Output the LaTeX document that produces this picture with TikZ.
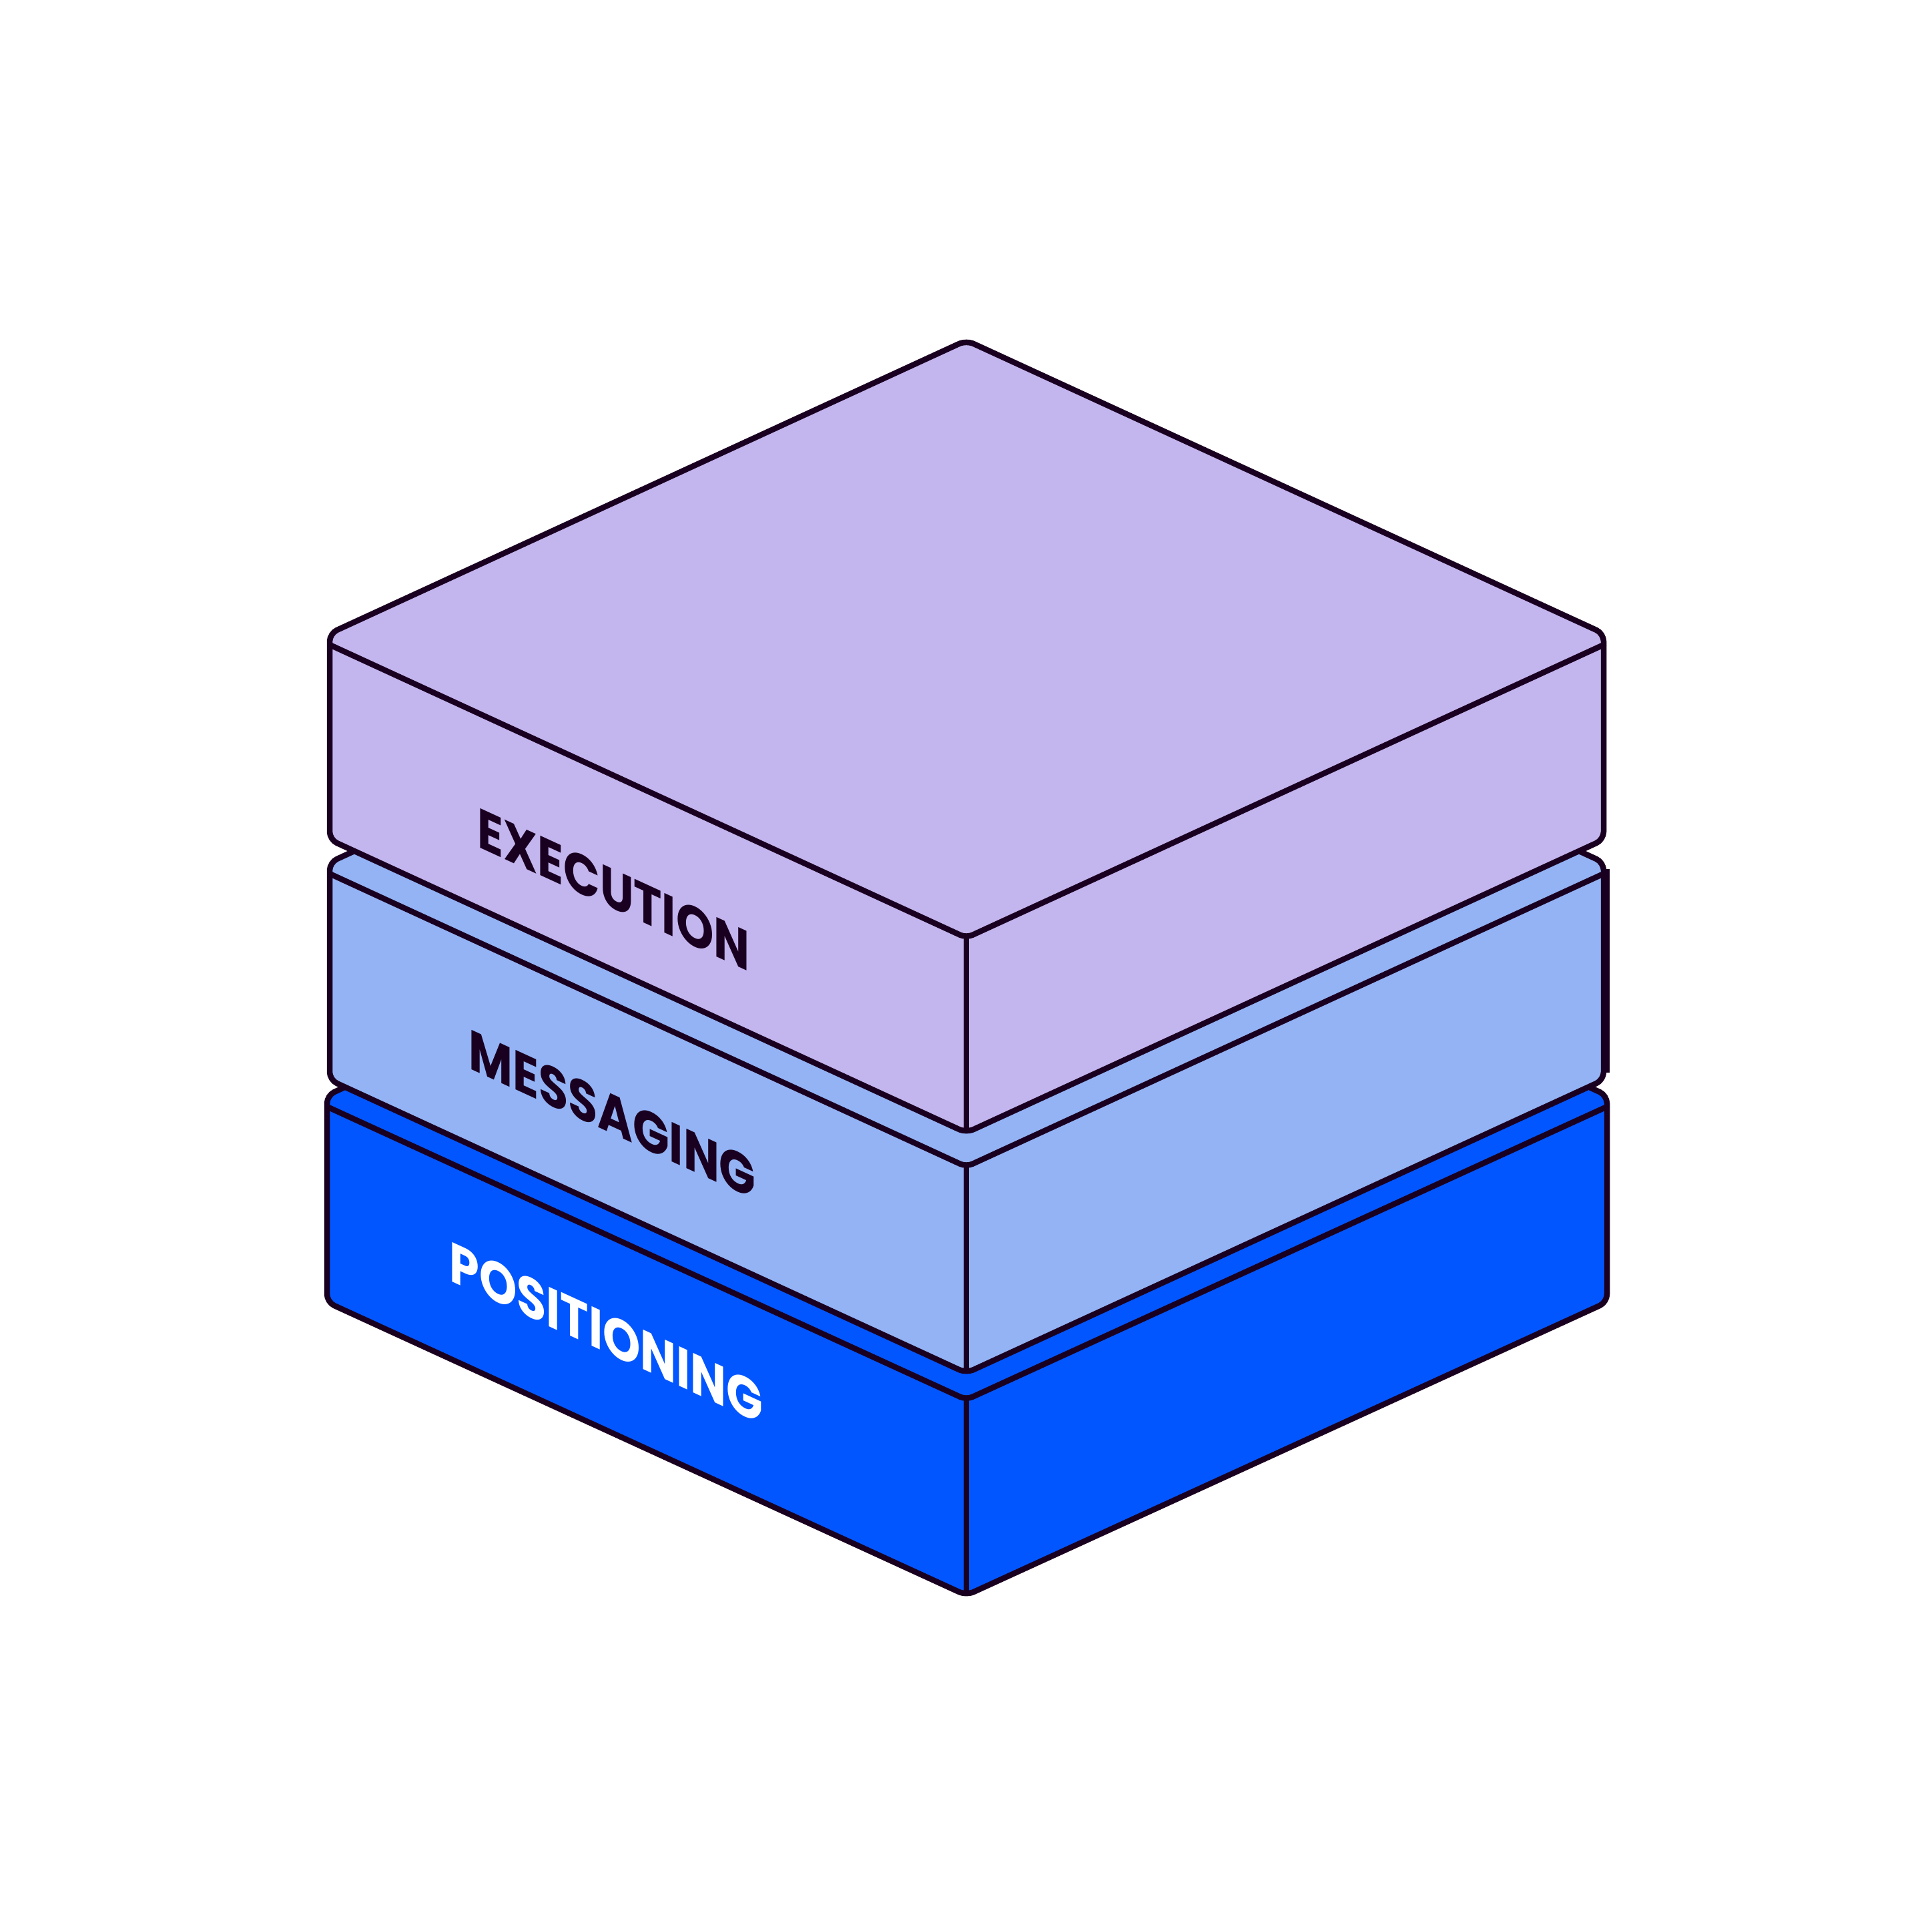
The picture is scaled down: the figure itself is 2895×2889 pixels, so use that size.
\documentclass[tikz,border=0pt]{standalone}
\usepackage{fontspec}
\setmainfont{Poppins}
\definecolor{ink}{RGB}{26,0,32}
\definecolor{execfill}{RGB}{195,181,238}
\definecolor{msgfill}{RGB}{147,179,245}
\definecolor{posfill}{RGB}{2,86,255}

\begin{document}
\begin{tikzpicture}[
    x=0.1mm,y=-0.1mm,
    slab/.style={draw=ink,line width=0.85mm,rounded corners=1.2mm,line join=round},
    faceline/.style={draw=ink,line width=0.85mm,line cap=round,line join=round,rounded corners=1mm},
    layertext/.style={inner sep=0pt,anchor=base west,font=\bfseries\fontsize{24}{28}\selectfont,cm={0.85,-0.391,0,1,(0,0)}}
]
    \fill[white] (0,0) rectangle (2895,2889);
    \useasboundingbox (0,0) rectangle (2895,2889);

    \path[slab,fill=posfill] (1448,1202) -- (490,1641) -- (490,1951) -- (1448,2390) -- (2408,1951) -- (2408,1641) -- cycle;
    \draw[faceline] (490,1658) -- (1448,2097) -- (2408,1658);
    \draw[faceline] (1448,2097) -- (1448,2384);
    \node[layertext,text=white] (pos) at (673,1918) {POSITIONING};

    \path[slab,fill=msgfill] (1448,853) -- (494,1292) -- (494,1618) -- (1448,2057) -- (2403,1618) -- (2403,1292) -- cycle;
    \draw[faceline] (494,1309) -- (1448,1748) -- (2403,1309);
    \draw[faceline] (1448,1748) -- (1448,2051);
    \draw[draw=ink,line width=0.85mm] (2408,1302) -- (2408,1607);
    \node[layertext,text=ink] (msg) at (702,1600) {MESSAGING};

    \path[slab,fill=execfill] (1448,510) -- (494,949) -- (494,1258) -- (1448,1697) -- (2403,1258) -- (2403,949) -- cycle;
    \draw[faceline] (494,966) -- (1448,1405) -- (2403,966);
    \draw[faceline] (1448,1405) -- (1448,1691);
    \node[layertext,text=ink] (exec) at (715,1268) {EXECUTION};
\end{tikzpicture}
\end{document}
